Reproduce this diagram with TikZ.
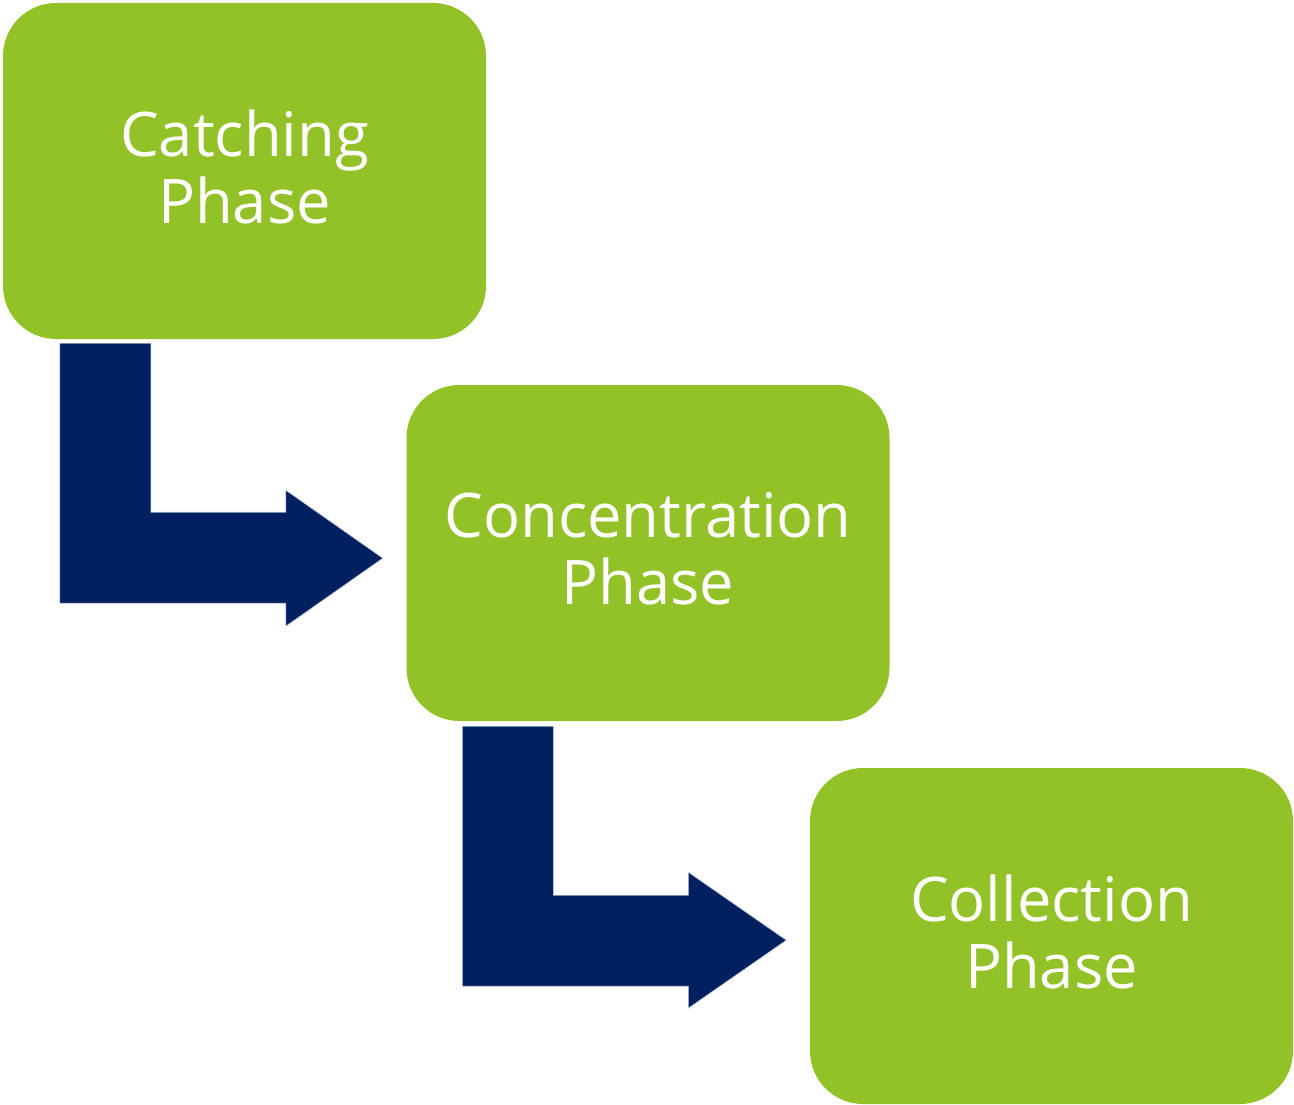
\documentclass[tikz,border=0pt]{standalone}
\usepackage{fontspec}
\setmainfont{Open Sans}
\usetikzlibrary{calc}
\definecolor{phasegreen}{HTML}{92C128}
\definecolor{navyarrow}{HTML}{002060}
\tikzset{
  phase/.style={fill=phasegreen, draw=none, rounded corners=53pt,
    minimum width=483pt, minimum height=336pt, inner sep=0pt},
  phasetext/.style={text=white, align=center, inner sep=0pt, yshift=4pt,
    font=\fontsize{61.5}{67}\selectfont},
  bentarrow/.style={fill=navyarrow, draw=white!75!navyarrow, line width=0.6pt}
}
\begin{document}
\begin{tikzpicture}[x=1pt,y=-1pt]
\useasboundingbox (0,0) rectangle (1294,1105);
\node[phase, label={[phasetext]center:Catching\\Phase}] (b1) at (244.5,171) {};
\node[phase, label={[phasetext]center:Concentration\\Phase}] (b2) at (648,553) {};
\node[phase, label={[phasetext]center:Collection\\Phase}] (b3) at (1051.5,936) {};
\coordinate (a1s) at ($(b1.south west)+(57,4)$);
\coordinate (a2s) at ($(b2.south west)+(56,5)$);
\path[bentarrow] (a1s) -- ++(91,0) -- ++(0,169) -- ++(135,0) -- ++(0,-22)
   -- ++(97,68) -- ++(-97,68) -- ++(0,-23) -- ++(-226,0) -- cycle;
\path[bentarrow] (a2s) -- ++(91,0) -- ++(0,169) -- ++(135,0) -- ++(0,-23)
   -- ++(98,68) -- ++(-98,68) -- ++(0,-22) -- ++(-226,0) -- cycle;
\end{tikzpicture}
\end{document}
